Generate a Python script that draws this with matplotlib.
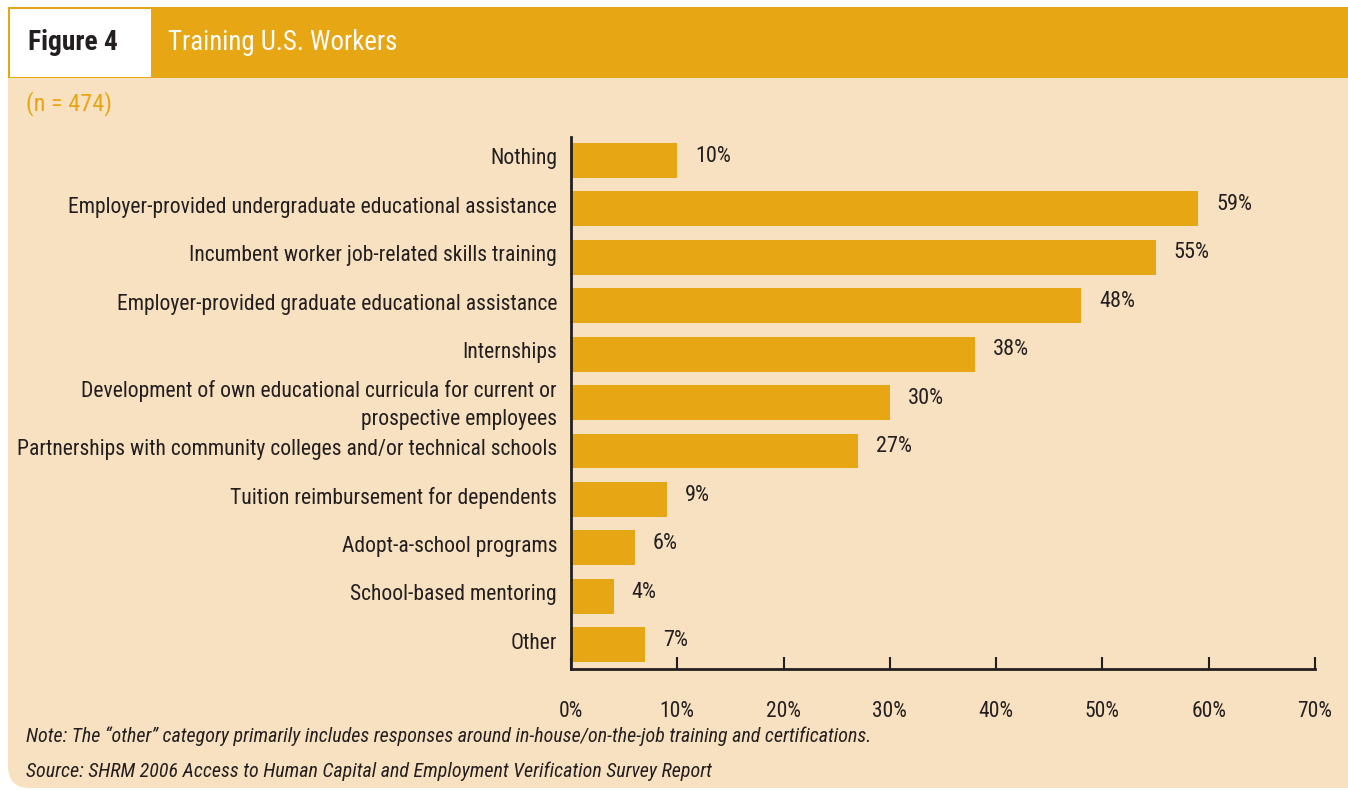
import matplotlib.pyplot as plt
from matplotlib.patches import Rectangle, FancyBboxPatch
from matplotlib.transforms import ScaledTranslation

categories = [
    "Nothing",
    "Employer-provided undergraduate educational assistance",
    "Incumbent worker job-related skills training",
    "Employer-provided graduate educational assistance",
    "Internships",
    "Development of own educational curricula for current or\nprospective employees",
    "Partnerships with community colleges and/or technical schools",
    "Tuition reimbursement for dependents",
    "Adopt-a-school programs",
    "School-based mentoring",
    "Other",
]
values = [10, 59, 55, 48, 38, 30, 27, 9, 6, 4, 7]
xticks = [0, 10, 20, 30, 40, 50, 60, 70]

ORANGE = "#E7A614"
BG = "#F8E1C0"
DARK = "#231F20"

plt.rcParams["font.family"] = ["Roboto Condensed", "DejaVu Sans"]

W, H = 1348, 790
fig = plt.figure(figsize=(W / 100, H / 100), dpi=100)

# background layer drawn in pixel coordinates
bg = fig.add_axes([0, 0, 1, 1], zorder=-10)
bg.set_xlim(0, W)
bg.set_ylim(H, 0)
bg.axis("off")
bg.add_patch(FancyBboxPatch((8, 40), W + 40, 748, boxstyle="round,pad=0,rounding_size=22",
                            fc=BG, ec="none"))
bg.add_patch(Rectangle((8, 7), W, 71, fc=ORANGE, ec="none"))
bg.add_patch(Rectangle((10, 9), 141, 68, fc="white", ec="none"))
bg.text(28, 42, "Figure 4", fontsize=19.8, fontweight="bold", color=DARK, va="center", ha="left")
bg.text(168, 42, "Training U.S. Workers", fontsize=19.4, color="white", va="center", ha="left")
bg.text(26, 104, "(n = 474)", fontsize=17.5, color=ORANGE, va="center", ha="left")
bg.text(26, 736, "Note: The \u201cother\u201d category primarily includes responses around in-house/on-the-job training and certifications.",
        fontsize=14.4, style="italic", color=DARK, va="center", ha="left")
bg.text(26, 771, "Source: SHRM 2006 Access to Human Capital and Employment Verification Survey Report",
        fontsize=14.4, style="italic", color=DARK, va="center", ha="left")

ax = fig.add_axes([571 / W, (H - 669) / H, (1315 - 571) / W, (669 - 137) / H])
ax.patch.set_visible(False)
pos = list(range(len(categories)))
ax.barh(pos, values, height=0.72, color=ORANGE)
ax.set_ylim(10.5, -0.48)
ax.set_xlim(0, 70)

for p, v in zip(pos, values):
    ax.annotate(f"{v}%", (v, p), xytext=(13, 3), textcoords="offset points",
                va="center", ha="left", fontsize=16, color=DARK)

ax.set_yticks(pos)
ax.set_yticklabels(categories, fontsize=15.6, color=DARK, linespacing=1.45)
ax.tick_params(axis="y", length=0, pad=10)
lift = ScaledTranslation(0, 4 / 100, fig.dpi_scale_trans)
for lab in ax.get_yticklabels():
    lab.set_transform(lab.get_transform() + lift)
ax.set_xticks(xticks)
ax.set_xticklabels([f"{t}%" for t in xticks], fontsize=15.5, color=DARK)
ax.tick_params(axis="x", direction="in", length=9, width=1.5, color=DARK, pad=23)

for s in ["top", "right"]:
    ax.spines[s].set_visible(False)
for s in ["left", "bottom"]:
    ax.spines[s].set_linewidth(2)
    ax.spines[s].set_color(DARK)

fig.savefig("out.png", dpi=100, facecolor="white")
